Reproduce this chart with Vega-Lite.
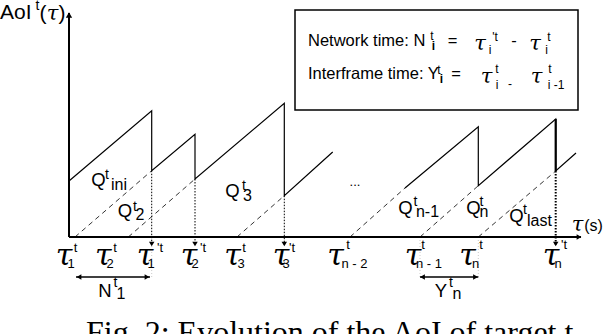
{
  "$schema": "https://vega.github.io/schema/vega-lite/v6.json",
  "width": 604,
  "height": 334,
  "padding": 0,
  "autosize": "none",
  "background": "white",
  "config": {"view": {"stroke": null}},
  "datasets": {
    "box": [{"t": 226, "a": 227, "t2": 509, "a2": 127}],
    "axes": [{"t": 0, "a": 0, "t2": 0, "a2": 224}, {"t": 0, "a": 0, "t2": 512, "a2": 0}],
    "headUp": [{"t": 0, "a": 222}],
    "headRight": [{"t": 510, "a": 0}, {"t": 78, "a": -40}, {"t": 406.5, "a": -40}],
    "headLeft": [{"t": 10, "a": -40}, {"t": 353.5, "a": -40}],
    "headDown": [{"t": 82.7, "a": -7}, {"t": 126, "a": -7}, {"t": 215.3, "a": -7}, {"t": 486.7, "a": -7}],
    "aoi": [
      {"seg": "A", "i": 1, "t": 0, "a": 56},
      {"seg": "A", "i": 2, "t": 82.7, "a": 126.3},
      {"seg": "A", "i": 3, "t": 82.7, "a": 66.3},
      {"seg": "A", "i": 4, "t": 126, "a": 102.7},
      {"seg": "A", "i": 5, "t": 126, "a": 58},
      {"seg": "A", "i": 6, "t": 215.3, "a": 133.7},
      {"seg": "A", "i": 7, "t": 215.3, "a": 41.3},
      {"seg": "A", "i": 8, "t": 263.7, "a": 85},
      {"seg": "B", "i": 1, "t": 336, "a": 49},
      {"seg": "B", "i": 2, "t": 409.3, "a": 110.3},
      {"seg": "B", "i": 3, "t": 409.3, "a": 51.3},
      {"seg": "B", "i": 4, "t": 486.7, "a": 118},
      {"seg": "B", "i": 5, "t": 486.7, "a": 66},
      {"seg": "B", "i": 6, "t": 507, "a": 84}
    ],
    "lastDrop": [{"t": 486.7, "a": 118, "a2": 66}],
    "queues": [
      {"t": 6, "a": 0, "t2": 82.7, "a2": 66.3},
      {"t": 59.3, "a": 0, "t2": 126, "a2": 58},
      {"t": 168, "a": 0, "t2": 215.3, "a2": 41.3},
      {"t": 281, "a": 0, "t2": 336, "a2": 49},
      {"t": 351, "a": 0, "t2": 409.3, "a2": 51.3},
      {"t": 409.3, "a": 0, "t2": 486.7, "a2": 66}
    ],
    "deliveries": [
      {"t": 82.7, "a": 66.3, "a2": -8},
      {"t": 126, "a": 58, "a2": -8},
      {"t": 215.3, "a": 41.3, "a2": -8}
    ],
    "lastDelivery": [{"t": 486.7, "a": 66, "a2": -8}],
    "guides": [
      {"t": 82.7, "a": 0, "a2": -42},
      {"t": 351, "a": 0, "a2": -42},
      {"t": 409.3, "a": 0, "a2": -42}
    ],
    "spans": [
      {"t": 7, "t2": 81, "a": -40},
      {"t": 351, "t2": 409.3, "a": -40}
    ],
    "tauAxis": [
      {"t": -5, "a": -19}, {"t": 34.3, "a": -19}, {"t": 76, "a": -19}, {"t": 120, "a": -19},
      {"t": 163.5, "a": -19}, {"t": 212, "a": -19}, {"t": 266.5, "a": -19}, {"t": 344, "a": -19},
      {"t": 398.5, "a": -19}, {"t": 482, "a": -19}
    ],
    "tauSmall": [
      {"t": 411, "a": 193}, {"t": 466, "a": 193}, {"t": 417.5, "a": 160}, {"t": 467.5, "a": 160},
      {"t": 508.5, "a": 12.5}, {"t": -16.5, "a": 223}
    ],
    "axisSup": [
      {"label": "t", "t": 6.5, "a": -10.5}, {"label": "t", "t": 46, "a": -10.5},
      {"label": "'t", "t": 91, "a": -10.5}, {"label": "'t", "t": 134, "a": -10.5},
      {"label": "t", "t": 175, "a": -10.5}, {"label": "'t", "t": 223, "a": -10.5},
      {"label": "t", "t": 279, "a": -8}, {"label": "t", "t": 354, "a": -8},
      {"label": "t", "t": 412, "a": -8}, {"label": "'t", "t": 495, "a": -8},
      {"label": "1", "t": 2, "a": -27}, {"label": "2", "t": 41, "a": -27},
      {"label": "1", "t": 82, "a": -27}, {"label": "2", "t": 126, "a": -27},
      {"label": "3", "t": 172, "a": -27}, {"label": "3", "t": 217, "a": -27},
      {"label": "n - 2", "t": 285.5, "a": -27}, {"label": "n - 1", "t": 360, "a": -27},
      {"label": "n", "t": 406.5, "a": -27}, {"label": "n", "t": 489, "a": -27},
      {"label": "...", "t": 286, "a": 55}
    ],
    "qSup": [
      {"label": "t", "t": 38, "a": 62}, {"label": "t", "t": 66, "a": 30.5},
      {"label": "t", "t": 175, "a": 51}, {"label": "t", "t": 346.5, "a": 35.5},
      {"label": "t", "t": 412.5, "a": 35.5}, {"label": "t", "t": 456, "a": 27},
      {"label": "t", "t": 46.5, "a": -46}, {"label": "t", "t": 382, "a": -46}
    ],
    "qSub": [
      {"label": "ini", "t": 50, "a": 52}, {"label": "2", "t": 71, "a": 22},
      {"label": "3", "t": 178.5, "a": 41}, {"label": "n-1", "t": 358.5, "a": 25},
      {"label": "n", "t": 415, "a": 25}, {"label": "last", "t": 470.5, "a": 16},
      {"label": "1", "t": 52, "a": -56.5}, {"label": "n", "t": 388, "a": -56.5}
    ],
    "qMain": [
      {"label": "Q", "t": 29.5, "a": 57}, {"label": "Q", "t": 56, "a": 26.5},
      {"label": "Q", "t": 163.5, "a": 46.5}, {"label": "Q", "t": 336.5, "a": 29.5},
      {"label": "Q", "t": 404.5, "a": 29.5}, {"label": "Q", "t": 447.5, "a": 21.5},
      {"label": "N", "t": 36, "a": -53.5}, {"label": "Y", "t": 372, "a": -53.5}
    ],
    "legendText": [
      {"label": "Network time: N", "t": 239, "a": 196},
      {"label": "Interframe time: Y", "t": 239, "a": 163}
    ],
    "legendSym": [
      {"label": "=", "t": 383.5, "a": 196}, {"label": "-", "t": 445, "a": 196},
      {"label": "=", "t": 387, "a": 163}
    ],
    "legendSmall": [
      {"label": "t", "t": 363, "a": 201}, {"label": "'t", "t": 426, "a": 200},
      {"label": "i", "t": 421, "a": 187}, {"label": "i", "t": 477.5, "a": 187},
      {"label": "t", "t": 480, "a": 200},
      {"label": "t", "t": 370, "a": 167}, {"label": "t", "t": 428, "a": 168},
      {"label": "i", "t": 428, "a": 152}, {"label": "-", "t": 441, "a": 153},
      {"label": "t", "t": 481, "a": 168}, {"label": "i -1", "t": 487, "a": 152}
    ],
    "legendBold": [
      {"label": "i", "t": 364.5, "a": 191}, {"label": "i", "t": 372.5, "a": 158}
    ],
    "yLabel": [{"label": "AoI", "t": -69, "a": 224.5}],
    "yLabelSup": [{"label": "t", "t": -31.5, "a": 231}],
    "parens": [{"label": "(", "t": -26, "a": 223}, {"label": ")", "t": -7, "a": 223}],
    "unit": [{"label": "(s)", "t": 524.5, "a": 11}],
    "caption": [{"label": "Fig. 2: Evolution of the AoI of target t.", "t": 17, "a": -105.5}]
  },
  "encoding": {
    "x": {"field": "t", "type": "quantitative", "scale": {"domain": [-69, 535], "nice": false, "zero": false}, "axis": null},
    "y": {"field": "a", "type": "quantitative", "scale": {"domain": [-97, 237], "nice": false, "zero": false}, "axis": null}
  },
  "layer": [
    {"data": {"name": "box"}, "mark": {"type": "rect", "fill": "white", "stroke": "black", "strokeWidth": 1.5},
     "encoding": {"x2": {"field": "t2"}, "y2": {"field": "a2"}}},
    {"data": {"name": "queues"}, "mark": {"type": "rule", "color": "black", "strokeWidth": 0.8, "strokeDash": [5, 4]},
     "encoding": {"x2": {"field": "t2"}, "y2": {"field": "a2"}}},
    {"data": {"name": "guides"}, "mark": {"type": "rule", "color": "#bbbbbb", "strokeWidth": 0.8, "strokeDash": [1, 2]},
     "encoding": {"y2": {"field": "a2"}}},
    {"data": {"name": "deliveries"}, "mark": {"type": "rule", "color": "black", "strokeWidth": 1, "strokeDash": [1.5, 1.5]},
     "encoding": {"y2": {"field": "a2"}}},
    {"data": {"name": "lastDelivery"}, "mark": {"type": "rule", "color": "black", "strokeWidth": 2, "strokeDash": [1.5, 1.5]},
     "encoding": {"y2": {"field": "a2"}}},
    {"data": {"name": "aoi"}, "mark": {"type": "line", "color": "black", "strokeWidth": 1.2},
     "encoding": {"detail": {"field": "seg"}, "order": {"field": "i", "type": "quantitative"}}},
    {"data": {"name": "lastDrop"}, "mark": {"type": "rule", "color": "black", "strokeWidth": 2.2},
     "encoding": {"y2": {"field": "a2"}}},
    {"data": {"name": "axes"}, "mark": {"type": "rule", "color": "black", "strokeWidth": 2},
     "encoding": {"x2": {"field": "t2"}, "y2": {"field": "a2"}}},
    {"data": {"name": "spans"}, "mark": {"type": "rule", "color": "black", "strokeWidth": 1.3},
     "encoding": {"x2": {"field": "t2"}}},
    {"data": {"name": "headUp"}, "mark": {"type": "point", "shape": "triangle-up", "filled": true, "color": "black", "size": 40, "opacity": 1}},
    {"data": {"name": "headRight"}, "mark": {"type": "point", "shape": "triangle-right", "filled": true, "color": "black", "size": 30, "opacity": 1}},
    {"data": {"name": "headLeft"}, "mark": {"type": "point", "shape": "triangle-left", "filled": true, "color": "black", "size": 30, "opacity": 1}},
    {"data": {"name": "headDown"}, "mark": {"type": "point", "shape": "triangle-down", "filled": true, "color": "black", "size": 30, "opacity": 1}},
    {"data": {"name": "tauAxis"}, "mark": {"type": "text", "text": "τ", "font": "DejaVu Serif", "fontStyle": "italic", "fontSize": 30, "align": "center", "baseline": "middle", "color": "black"}},
    {"data": {"name": "tauSmall"}, "mark": {"type": "text", "text": "τ", "font": "DejaVu Serif", "fontStyle": "italic", "fontSize": 21, "align": "center", "baseline": "middle", "color": "black"}},
    {"data": {"name": "axisSup"}, "mark": {"type": "text", "font": "Liberation Sans", "fontSize": 13, "align": "center", "baseline": "middle", "color": "black"},
     "encoding": {"text": {"field": "label"}}},
    {"data": {"name": "qSup"}, "mark": {"type": "text", "font": "Liberation Sans", "fontSize": 14, "align": "center", "baseline": "middle", "color": "black"},
     "encoding": {"text": {"field": "label"}}},
    {"data": {"name": "qSub"}, "mark": {"type": "text", "font": "Liberation Sans", "fontSize": 16, "align": "center", "baseline": "middle", "color": "black"},
     "encoding": {"text": {"field": "label"}}},
    {"data": {"name": "qMain"}, "mark": {"type": "text", "font": "Liberation Sans", "fontSize": 18.5, "align": "center", "baseline": "middle", "color": "black"},
     "encoding": {"text": {"field": "label"}}},
    {"data": {"name": "legendText"}, "mark": {"type": "text", "font": "Liberation Sans", "fontSize": 16.5, "align": "left", "baseline": "middle", "color": "black"},
     "encoding": {"text": {"field": "label"}}},
    {"data": {"name": "legendSym"}, "mark": {"type": "text", "font": "Liberation Sans", "fontSize": 16.5, "align": "center", "baseline": "middle", "color": "black"},
     "encoding": {"text": {"field": "label"}}},
    {"data": {"name": "legendSmall"}, "mark": {"type": "text", "font": "Liberation Sans", "fontSize": 12, "align": "center", "baseline": "middle", "color": "black"},
     "encoding": {"text": {"field": "label"}}},
    {"data": {"name": "legendBold"}, "mark": {"type": "text", "font": "Liberation Sans", "fontSize": 12, "fontWeight": "bold", "align": "center", "baseline": "middle", "color": "black"},
     "encoding": {"text": {"field": "label"}}},
    {"data": {"name": "yLabel"}, "mark": {"type": "text", "font": "Liberation Sans", "fontSize": 21, "align": "left", "baseline": "middle", "color": "black"},
     "encoding": {"text": {"field": "label"}}},
    {"data": {"name": "yLabelSup"}, "mark": {"type": "text", "font": "Liberation Sans", "fontSize": 14, "align": "center", "baseline": "middle", "color": "black"},
     "encoding": {"text": {"field": "label"}}},
    {"data": {"name": "parens"}, "mark": {"type": "text", "font": "Liberation Sans", "fontSize": 21, "align": "center", "baseline": "middle", "color": "black"},
     "encoding": {"text": {"field": "label"}}},
    {"data": {"name": "unit"}, "mark": {"type": "text", "font": "Liberation Sans", "fontSize": 16, "align": "center", "baseline": "middle", "color": "black"},
     "encoding": {"text": {"field": "label"}}},
    {"data": {"name": "caption"}, "mark": {"type": "text", "font": "Liberation Serif", "fontSize": 32, "align": "left", "baseline": "alphabetic", "color": "black"},
     "encoding": {"text": {"field": "label"}}}
  ]
}
